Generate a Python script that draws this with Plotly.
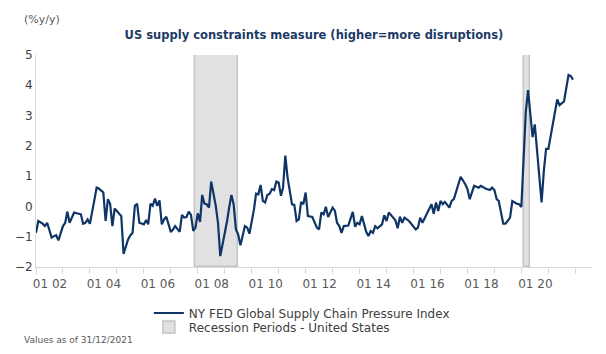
import pandas as pd
import plotly.graph_objects as go

# ---- data ----
months = [
    "2002-01", "2002-02", "2002-04", "2002-05", "2002-06", "2002-07", "2002-08", "2002-09", "2002-10", "2002-11", "2002-12",
    "2003-01", "2003-02", "2003-03", "2003-04", "2003-06", "2003-08", "2003-09", "2003-10", "2003-11", "2003-12",
    "2004-01", "2004-03", "2004-04", "2004-05", "2004-07", "2004-08", "2004-09", "2004-10", "2004-11", "2004-12",
    "2005-02", "2005-03", "2005-04", "2005-06", "2005-07", "2005-08", "2005-09", "2005-10", "2005-11",
    "2006-01", "2006-02", "2006-03", "2006-04", "2006-05", "2006-06", "2006-07", "2006-08", "2006-09", "2006-10", "2006-11",
    "2007-01", "2007-02", "2007-03", "2007-05", "2007-06", "2007-07", "2007-08", "2007-09", "2007-10", "2007-11", "2007-12",
    "2008-01", "2008-02", "2008-03", "2008-04", "2008-05", "2008-06", "2008-07", "2008-09", "2008-10", "2008-11",
    "2009-01", "2009-02", "2009-03", "2009-04", "2009-05", "2009-06", "2009-07", "2009-08", "2009-10", "2009-11", "2009-12",
    "2010-01", "2010-02", "2010-03", "2010-04", "2010-05", "2010-06", "2010-07", "2010-08", "2010-09", "2010-10", "2010-11", "2010-12",
    "2011-01", "2011-02", "2011-03", "2011-04", "2011-05", "2011-07", "2011-08", "2011-09", "2011-10", "2011-11", "2011-12",
    "2012-01", "2012-02", "2012-04", "2012-06", "2012-07", "2012-08", "2012-09", "2012-10", "2012-11",
    "2013-01", "2013-02", "2013-03", "2013-04", "2013-05", "2013-06", "2013-08", "2013-10", "2013-11", "2013-12",
    "2014-01", "2014-02", "2014-04", "2014-05", "2014-06", "2014-07", "2014-08", "2014-09", "2014-11", "2014-12",
    "2015-01", "2015-02", "2015-04", "2015-05", "2015-06", "2015-07", "2015-08", "2015-09", "2015-11",
    "2016-01", "2016-02", "2016-03", "2016-04", "2016-05", "2016-07", "2016-08", "2016-09", "2016-10", "2016-11", "2016-12",
    "2017-01", "2017-02", "2017-03", "2017-05", "2017-06", "2017-07", "2017-10", "2017-12",
    "2018-01", "2018-02", "2018-04", "2018-06", "2018-07", "2018-09", "2018-11", "2018-12",
    "2019-01", "2019-02", "2019-03", "2019-05", "2019-06", "2019-08", "2019-09", "2019-11", "2019-12",
    "2020-01", "2020-03", "2020-04", "2020-06", "2020-07", "2020-08", "2020-09", "2020-10", "2020-11", "2020-12",
    "2021-01", "2021-02", "2021-03", "2021-05", "2021-06", "2021-08", "2021-10", "2021-11", "2021-12",
]
gscpi = [
    -0.87, -0.48, -0.57, -0.65, -0.54, -0.81, -1.03, -0.98, -0.95, -1.12, -0.87,
    -0.65, -0.54, -0.17, -0.54, -0.20, -0.24, -0.26, -0.57, -0.54, -0.43,
    -0.57, 0.20, 0.62, 0.59, 0.46, -0.48, 0.24, 0.09, -0.65, -0.07,
    -0.26, -0.32, -1.57, -1.09, -0.96, -0.87, 0.02, 0.09, -0.54,
    -0.59, -0.45, -0.59, 0.09, 0.02, 0.26, 0.02, 0.20, -0.59, -0.43, -0.34,
    -0.84, -0.76, -0.65, -0.84, -0.28, -0.37, -0.35, -0.17, -0.28, -0.81, -0.70,
    -0.23, -0.51, 0.38, 0.09, 0.07, -0.04, 0.82, 0.02, -0.54, -1.64,
    -0.92, -0.48, -0.04, 0.38, 0.07, -0.76, -0.92, -1.28, -0.65, -0.70, -0.90,
    -0.54, -0.09, 0.42, 0.40, 0.71, 0.18, 0.13, 0.38, 0.42, 0.57, 0.54, 0.82,
    0.79, 0.35, 0.62, 1.68, 0.96, 0.07, 0.05, -0.48, -0.43, 0.15, 0.07,
    0.46, -0.32, -0.35, -0.70, -0.76, -0.20, -0.26, -0.01, -0.35,
    -0.04, -0.15, -0.54, -0.65, -0.87, -0.65, -0.63, -0.18, -0.67, -0.54,
    -0.59, -0.32, -0.84, -0.98, -0.81, -0.87, -0.65, -0.72, -0.59, -0.29,
    -0.48, -0.20, -0.37, -0.46, -0.72, -0.34, -0.54, -0.37, -0.48,
    -0.65, -0.76, -0.70, -0.37, -0.54, -0.24, -0.04, 0.07, -0.24, 0.13, -0.15,
    0.18, 0.07, 0.15, -0.04, 0.18, 0.24, 0.98, 0.74,
    0.57, 0.24, 0.68, 0.62, 0.68, 0.59, 0.54, 0.62,
    0.54, 0.24, 0.18, -0.57, -0.57, -0.37, 0.18, 0.09, 0.07,
    -0.02, 3.12, 3.84, 2.29, 2.71, 1.79, 0.90, 0.13, 1.18, 1.90,
    1.90, 2.34, 2.62, 3.53, 3.34, 3.47, 4.34, 4.30, 4.19,
]
rec_start = ["2007-12-01", "2020-02-01"]
rec_end = ["2009-07-01", "2020-05-01"]
tick_dates = ["2002-01-01", "2003-01-01", "2004-01-01", "2005-01-01", "2006-01-01", "2007-01-01",
              "2008-01-01", "2009-01-01", "2010-01-01", "2011-01-01", "2012-01-01", "2013-01-01",
              "2014-01-01", "2015-01-01", "2016-01-01", "2017-01-01", "2018-01-01", "2019-01-01",
              "2020-01-01", "2021-01-01", "2022-01-01"]
tick_labels = ["01 02", "", "01 04", "", "01 06", "", "01 08", "", "01 10", "", "01 12", "",
               "01 14", "", "01 16", "", "01 18", "", "01 20", "", ""]
y_range = [-2, 5]

# ---- figure ----
FONT = "DejaVu Sans"
NAVY = "#0e3566"
GREY_TXT = "#595959"
AXIS = "#d9d9d9"

s = pd.to_datetime(rec_start)
e = pd.to_datetime(rec_end)
mid = s + (e - s) / 2
widths = [(b - a).total_seconds() * 1000 for a, b in zip(s, e)]

fig = go.Figure()
fig.add_trace(go.Bar(
    x=mid, y=[y_range[1] - y_range[0]] * len(mid), base=y_range[0], width=widths,
    marker=dict(color="#e1e1e1", line=dict(color="#c4c4c4", width=1.5)),
    name="Recession Periods - United States", legend="legend2", hoverinfo="skip",
))
fig.add_trace(go.Scatter(
    x=months, y=gscpi, mode="lines",
    line=dict(color=NAVY, width=2.2),
    name="NY FED Global Supply Chain Pressure Index", legend="legend",
))

fig.update_layout(
    width=606, height=354,
    margin=dict(l=36, r=14, t=55, b=87),
    paper_bgcolor="white", plot_bgcolor="white",
    font=dict(family=FONT, color=GREY_TXT, size=12),
    title=dict(text="<b>US supply constraints measure (higher=more disruptions)</b>",
               x=0.5, xref="paper", xanchor="center", y=1 - 35 / 354, yanchor="middle",
               font=dict(family=FONT, size=11.5, color="#1b3a66")),
    showlegend=True,
    legend=dict(x=0.203, xanchor="left", y=-0.217, yanchor="middle",
                font=dict(family=FONT, size=12, color="#404040"), bgcolor="rgba(0,0,0,0)"),
    legend2=dict(x=0.203, xanchor="left", y=-0.283, yanchor="middle",
                 font=dict(family=FONT, size=12, color="#404040"), bgcolor="rgba(0,0,0,0)"),
    bargap=0,
)
fig.update_xaxes(
    type="date", range=["2002-01-01", "2022-08-15"],
    tickmode="array", tickvals=tick_dates, ticktext=tick_labels,
    ticklabelshift=14,
    ticks="outside", ticklen=6, tickcolor=AXIS, tickwidth=1,
    showline=True, linecolor=AXIS, linewidth=1,
    showgrid=False, zeroline=False,
    tickfont=dict(family=FONT, size=12, color=GREY_TXT),
)
fig.update_yaxes(
    range=y_range, dtick=1, tick0=0,
    showline=True, linecolor=AXIS, linewidth=1,
    showgrid=False, zeroline=False, ticks="",
    tickfont=dict(family=FONT, size=12, color="#404040"),
)
fig.add_annotation(text="(%y/y)", xref="paper", yref="paper", x=-0.025, y=(267 - 19) / 212,
                   xanchor="left", yanchor="middle", showarrow=False,
                   font=dict(family=FONT, size=11, color=GREY_TXT))
fig.add_annotation(text="Values as of 31/12/2021", xref="paper", yref="paper", x=-0.025, y=(267 - 340) / 212,
                   xanchor="left", yanchor="middle", showarrow=False,
                   font=dict(family=FONT, size=9, color=GREY_TXT))

fig.write_html("out.html")
